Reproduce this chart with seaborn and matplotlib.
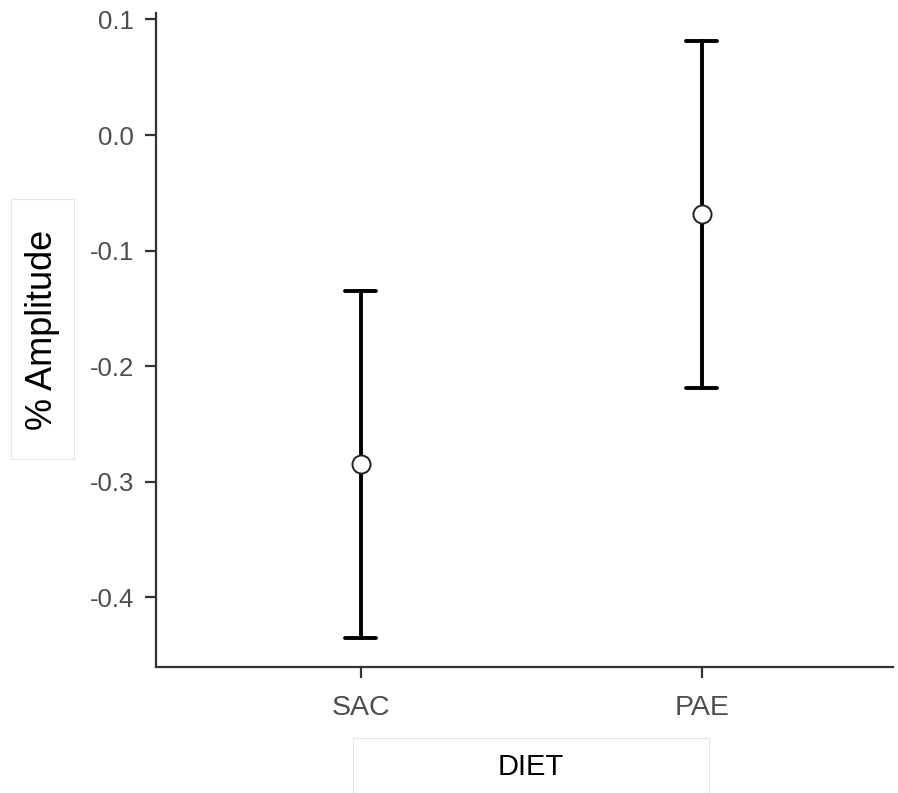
import numpy as np
import pandas as pd
import seaborn as sns
import matplotlib
matplotlib.use("Agg")
import matplotlib.pyplot as plt
from matplotlib.patches import Rectangle

# ---- data ----
diet = ["SAC", "PAE"]
mean_amp = [-0.285, -0.068]
lower_amp = [-0.435, -0.219]
upper_amp = [-0.135, 0.081]
y_ticks = [0.1, 0.0, -0.1, -0.2, -0.3, -0.4]
y_tick_labels = ["0.1", "0.0", "-0.1", "-0.2", "-0.3", "-0.4"]

# long table: lower / mean / upper per category; median -> mean, min/max -> interval
rows = []
for d, lo, m, hi in zip(diet, lower_amp, mean_amp, upper_amp):
    for v in (lo, m, hi):
        rows.append({"DIET": d, "amp": v})
df = pd.DataFrame(rows)

sns.set_theme(style="ticks")
plt.rcParams["font.family"] = ["Liberation Sans", "DejaVu Sans"]

W, H = 898, 793
fig = plt.figure(figsize=(W / 100, H / 100), dpi=100)
ax = fig.add_axes([156 / W, 1 - 667 / H, (893 - 156) / W, (667 - 13) / H])

sns.pointplot(
    data=df, x="DIET", y="amp", order=diet,
    estimator=np.median, errorbar=lambda v: (v.min(), v.max()),
    color="black", linestyle="none", markers="o", capsize=0.09,
    err_kws={"linewidth": 2.8, "color": "black", "zorder": 2},
    markersize=13, markerfacecolor="white", markeredgecolor="#222222",
    markeredgewidth=1.4, zorder=3, ax=ax,
)

ax.set_xlim(-0.6, 1.561)
ax.set_ylim(-0.4603, 0.1056)
ax.set_yticks(y_ticks)
ax.set_yticklabels(y_tick_labels)

for s in ["top", "right"]:
    ax.spines[s].set_visible(False)
for s in ["left", "bottom"]:
    ax.spines[s].set_color("#333333")
    ax.spines[s].set_linewidth(1.6)
ax.tick_params(axis="both", colors="#333333", width=1.6, length=8, pad=8)
ax.tick_params(axis="y", labelsize=18.5, labelcolor="#4d4d4d", pad=8)
ax.tick_params(axis="x", labelsize=20.5, labelcolor="#4d4d4d", pad=12)

# axis titles in faint boxes
ax.set_xlabel("DIET", fontsize=21, color="black")
ax.xaxis.set_label_coords((531 - 156) / (893 - 156), -(767 - 667) / (667 - 13))
ax.xaxis.label.set_va("center")
ax.set_ylabel("% Amplitude", fontsize=26, color="black")
ax.yaxis.set_label_coords((42 - 156) / (893 - 156), 1 - (330 - 13) / (667 - 13))
ax.yaxis.label.set_va("center")

fig.add_artist(Rectangle((353 / W, 1 - 800 / H), (709 - 353) / W, (800 - 738) / H,
                         transform=fig.transFigure, facecolor="white",
                         edgecolor="#e6e6e6", linewidth=0.8, zorder=0))
fig.add_artist(Rectangle((11 / W, 1 - 459 / H), (74 - 11) / W, (459 - 199) / H,
                         transform=fig.transFigure, facecolor="white",
                         edgecolor="#e6e6e6", linewidth=0.8, zorder=0))

fig.savefig("out.png", dpi=100)
